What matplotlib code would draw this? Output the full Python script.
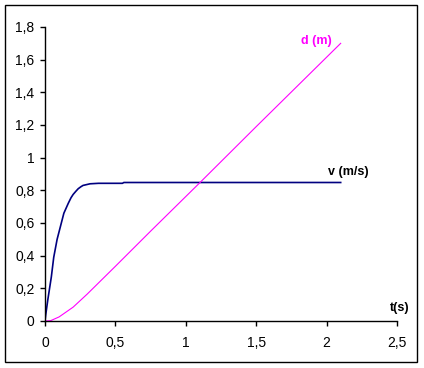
import matplotlib
matplotlib.use("Agg")
import matplotlib.pyplot as plt
from matplotlib.ticker import FuncFormatter, MultipleLocator
from matplotlib.patches import Rectangle

plt.rcParams['font.family'] = ['Liberation Sans', 'DejaVu Sans']

# velocity v (m/s)
t_v = [0, 0.005, 0.02, 0.045, 0.062, 0.086, 0.11, 0.134, 0.165, 0.185, 0.20,
       0.22, 0.236, 0.255, 0.27, 0.30, 0.32, 0.38, 0.55, 0.56, 1.0, 1.5, 2.1]
v = [0, 0.037, 0.13, 0.27, 0.39, 0.50, 0.58, 0.66, 0.72, 0.755, 0.775,
     0.795, 0.81, 0.822, 0.83, 0.836, 0.84, 0.843, 0.843, 0.848, 0.848,
     0.848, 0.848]

# distance d (m)
t_d = [0, 0.04, 0.1, 0.2, 0.3, 0.4, 0.5, 0.75, 1.1, 1.5, 2.1]
d = [0, 0.002, 0.025, 0.085, 0.165, 0.25, 0.335, 0.55, 0.847, 1.19, 1.70]

fig = plt.figure(figsize=(4.24, 3.68), dpi=100)
# outer frame
fig.patches.append(Rectangle((5 / 424, 1 - 362 / 368), 412 / 424, 357 / 368,
                             transform=fig.transFigure, fill=False,
                             edgecolor='black', linewidth=1.0))

ax = fig.add_axes([45 / 424, 1 - 321 / 368, 352 / 424, 294 / 368])
ax.plot(t_v, v, color='#000080', linewidth=1.2)
ax.plot(t_d, d, color='#FF00FF', linewidth=0.8)

ax.set_xlim(0, 2.5)
ax.set_ylim(0, 1.8)
ax.xaxis.set_major_locator(MultipleLocator(0.5))
ax.yaxis.set_major_locator(MultipleLocator(0.2))
fmt = FuncFormatter(lambda val, pos: f'{val:g}'.replace('.', ','))
ax.xaxis.set_major_formatter(fmt)
ax.yaxis.set_major_formatter(fmt)

for s in ['top', 'right']:
    ax.spines[s].set_visible(False)
for s in ['left', 'bottom']:
    ax.spines[s].set_linewidth(1.0)
ax.tick_params(axis='both', direction='out', length=3.5, width=1.0,
               labelsize=10, colors='black')
ax.tick_params(axis='x', pad=7)
ax.tick_params(axis='y', pad=4)

ax.text(1.925, 1.715, 'd (m)', color='#FF00FF', fontsize=9,
        fontweight='bold', ha='center', va='center')
ax.text(2.152, 0.912, 'v (m/s)', color='black', fontsize=9,
        fontweight='bold', ha='center', va='center')
ax.text(2.518, 0.08, 't(s)', color='black', fontsize=9,
        fontweight='bold', ha='center', va='center')

fig.savefig('out.png', dpi=100)
